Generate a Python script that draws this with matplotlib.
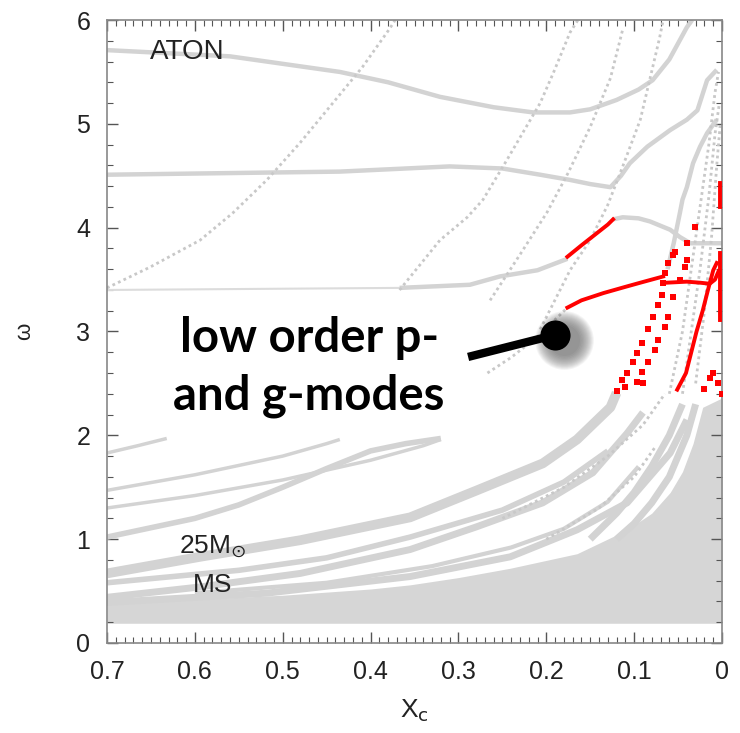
import matplotlib
matplotlib.use("Agg")
import matplotlib.pyplot as plt
from matplotlib.ticker import MultipleLocator

plt.rcParams['font.family'] = ['Liberation Sans', 'DejaVu Sans']

# mode tracks: omega vs X_c
# thick gray tracks (upper frequencies)
aton_x = [0.700, 0.560, 0.435, 0.380, 0.321, 0.260, 0.215, 0.173, 0.150, 0.120, 0.095, 0.079, 0.060, 0.040, 0.034]
aton_y = [5.71, 5.65, 5.50, 5.40, 5.26, 5.16, 5.11, 5.11, 5.14, 5.23, 5.33, 5.42, 5.62, 5.93, 6.00]

mid_x = [0.700, 0.435, 0.310, 0.250, 0.207, 0.173, 0.150, 0.127, 0.115, 0.105, 0.085, 0.059, 0.040, 0.028, 0.017, 0.006]
mid_y = [4.51, 4.54, 4.59, 4.57, 4.51, 4.46, 4.42, 4.39, 4.50, 4.62, 4.78, 4.94, 5.04, 5.13, 5.42, 5.52]

low_thin_x = [0.700, 0.367]
low_thin_y = [3.40, 3.42]
low_x = [0.367, 0.287, 0.253, 0.210, 0.176]
low_y = [3.42, 3.45, 3.53, 3.59, 3.70]
low_end_x = [0.124, 0.113, 0.095, 0.082, 0.059, 0.048, 0.036, 0.000]
low_end_y = [4.08, 4.10, 4.09, 4.06, 3.98, 3.91, 3.85, 3.85]

bend_x = [0.062, 0.055, 0.048, 0.045, 0.040, 0.033, 0.025, 0.017, 0.006]
bend_y = [3.60, 3.85, 4.14, 4.27, 4.39, 4.62, 4.78, 4.91, 5.04]

# dotted (p-mode like) tracks
p1_x = [0.700, 0.651, 0.594, 0.557, 0.518, 0.480, 0.443, 0.409, 0.378, 0.372]
p1_y = [3.42, 3.62, 3.88, 4.14, 4.46, 4.82, 5.20, 5.55, 5.92, 6.00]
p2_x = [0.367, 0.321, 0.290, 0.272, 0.245, 0.207, 0.192, 0.173, 0.164]
p2_y = [3.40, 3.88, 4.10, 4.27, 4.65, 5.20, 5.49, 5.88, 6.00]
p3_x = [0.264, 0.230, 0.199, 0.175, 0.150, 0.127, 0.113]
p3_y = [3.30, 3.74, 4.15, 4.53, 4.97, 5.44, 5.91]
p4_x = [0.207, 0.173, 0.150, 0.130, 0.113, 0.093, 0.071, 0.067]
p4_y = [3.02, 3.59, 3.88, 4.22, 4.59, 5.04, 5.83, 6.00]
p5_x = [0.267, 0.240, 0.210, 0.176]
p5_y = [2.60, 2.75, 2.95, 3.23]
s1_x = [0.060, 0.045, 0.035, 0.025, 0.015, 0.008, 0.004]
s1_y = [2.40, 3.00, 3.60, 4.20, 4.80, 5.30, 5.50]
s2_x = [0.045, 0.035, 0.025, 0.015, 0.008, 0.003]
s2_y = [2.40, 3.00, 3.60, 4.30, 4.90, 5.20]
s3_x = [0.030, 0.020, 0.012, 0.006, 0.002]
s3_y = [2.50, 3.20, 3.90, 4.60, 5.00]
d1_x = [0.250, 0.180, 0.130, 0.090, 0.065]
d1_y = [1.20, 1.50, 1.80, 2.10, 2.40]
d2_x = [0.200, 0.140, 0.100, 0.075]
d2_y = [1.00, 1.30, 1.60, 1.90]

# lower frequency bands
band_a_x = [0.700, 0.594, 0.480, 0.355, 0.279, 0.204, 0.165, 0.127, 0.120]
band_a_y = [0.67, 0.83, 0.99, 1.21, 1.47, 1.73, 1.96, 2.27, 2.41]
band_ab_x = [0.700, 0.550, 0.450, 0.355, 0.250, 0.180, 0.130]
band_ab_y = [0.58, 0.70, 0.82, 1.02, 1.28, 1.55, 1.85]
band_b_x = [0.700, 0.594, 0.480, 0.355, 0.279, 0.204, 0.147, 0.108, 0.090]
band_b_y = [0.44, 0.54, 0.67, 0.90, 1.12, 1.35, 1.64, 2.02, 2.22]
band_bc_x = [0.600, 0.450, 0.330, 0.240, 0.180, 0.130, 0.095]
band_bc_y = [0.48, 0.58, 0.74, 0.92, 1.10, 1.36, 1.70]
band_c_x = [0.700, 0.518, 0.355, 0.241, 0.165, 0.108, 0.059, 0.040]
band_c_y = [0.39, 0.48, 0.64, 0.83, 1.09, 1.35, 1.83, 2.15]
e1_x = [0.150, 0.120, 0.100, 0.080, 0.060, 0.045]
e1_y = [1.00, 1.25, 1.45, 1.70, 2.00, 2.30]
e2_x = [0.120, 0.100, 0.080, 0.060, 0.040, 0.030]
e2_y = [1.00, 1.15, 1.35, 1.60, 2.00, 2.30]
g1_x = [0.700, 0.665, 0.632]
g1_y = [1.83, 1.90, 1.97]
g2_x = [0.700, 0.600, 0.500, 0.450, 0.435]
g2_y = [1.47, 1.62, 1.80, 1.92, 1.96]
g3_x = [0.700, 0.600, 0.500, 0.400, 0.340, 0.320]
g3_y = [1.30, 1.42, 1.57, 1.76, 1.90, 1.96]
g4_x = [0.700, 0.600, 0.550, 0.500, 0.450, 0.400, 0.360, 0.320]
g4_y = [1.02, 1.20, 1.33, 1.50, 1.68, 1.85, 1.92, 1.97]

# dense g-mode region: upper envelope
dense_x = [0.700, 0.600, 0.500, 0.400, 0.355, 0.300, 0.241, 0.165, 0.108, 0.080, 0.059, 0.045, 0.033, 0.022, 0.000]
dense_top = [0.38, 0.42, 0.46, 0.52, 0.56, 0.63, 0.72, 0.86, 1.09, 1.25, 1.45, 1.65, 1.92, 2.27, 2.36]
dense_bottom = 0.19

# unstable modes (red)
r1_x = [0.176, 0.160, 0.145, 0.130, 0.124]
r1_y = [3.72, 3.83, 3.93, 4.03, 4.08]
r2_x = [0.176, 0.160, 0.135, 0.110, 0.093, 0.067]
r2_y = [3.23, 3.30, 3.37, 3.43, 3.47, 3.53]
r2b_x = [0.063, 0.040, 0.025, 0.014, 0.008, 0.004]
r2b_y = [3.47, 3.48, 3.47, 3.46, 3.50, 3.58]
r5_x = [0.006, 0.010, 0.016, 0.022, 0.029, 0.035, 0.041, 0.051]
r5_y = [3.66, 3.59, 3.40, 3.20, 3.00, 2.80, 2.60, 2.44]
edge1_x = [0.002, 0.002]
edge1_y = [3.76, 3.11]
edge2_x = [0.002, 0.002]
edge2_y = [4.43, 4.20]
r3_x = [0.056, 0.062, 0.065, 0.067, 0.068, 0.073, 0.079, 0.084, 0.091, 0.097, 0.101, 0.108, 0.114, 0.119]
r3_y = [3.74, 3.66, 3.56, 3.47, 3.35, 3.26, 3.14, 3.02, 2.89, 2.79, 2.71, 2.60, 2.53, 2.43]
r4_x = [0.040, 0.042, 0.048, 0.056, 0.062, 0.065, 0.073, 0.076, 0.084, 0.091, 0.097]
r4_y = [3.69, 3.62, 3.50, 3.33, 3.14, 3.04, 2.92, 2.82, 2.71, 2.61, 2.51]
rx_x = [0.031, 0.040, 0.053, 0.010, 0.020, 0.005, 0.014, 0.000, 0.110, 0.090]
rx_y = [4.01, 3.85, 3.77, 2.60, 2.45, 2.50, 2.55, 2.40, 2.47, 2.50]

gray = '#d3d3d3'
red = '#ff0000'

fig = plt.figure(figsize=(7.4, 7.33), dpi=100)
ax = fig.add_axes([0.1446, 0.1228, 0.8311, 0.8499])

ax.fill_between(dense_x, dense_bottom, dense_top, color='#d6d6d6', lw=0, zorder=1)

for bx, by, w in [(band_a_x, band_a_y, 7), (band_ab_x, band_ab_y, 4), (band_b_x, band_b_y, 5),
                  (band_bc_x, band_bc_y, 3), (band_c_x, band_c_y, 5), (e1_x, e1_y, 5),
                  (e2_x, e2_y, 5), (g1_x, g1_y, 2.5), (g2_x, g2_y, 2.5),
                  (g3_x, g3_y, 2.5), (g4_x, g4_y, 4)]:
    ax.plot(bx, by, color=gray, lw=w, solid_capstyle='butt', solid_joinstyle='round', zorder=2)

for tx, ty in [(aton_x, aton_y), (mid_x, mid_y), (low_x, low_y), (low_end_x, low_end_y), (bend_x, bend_y)]:
    ax.plot(tx, ty, color=gray, lw=3.2, solid_capstyle='butt', solid_joinstyle='round', zorder=2)
ax.plot(low_thin_x, low_thin_y, color='#dcdcdc', lw=1.5, zorder=2)

for tx, ty in [(p1_x, p1_y), (p2_x, p2_y), (p3_x, p3_y), (p4_x, p4_y), (p5_x, p5_y),
               (s1_x, s1_y), (s2_x, s2_y), (s3_x, s3_y), (d1_x, d1_y), (d2_x, d2_y)]:
    ax.plot(tx, ty, color='#c8c8c8', lw=2, linestyle=(0, (1, 1.2)), zorder=2)

for tx, ty in [(r1_x, r1_y), (r2_x, r2_y), (r2b_x, r2b_y), (r5_x, r5_y), (edge1_x, edge1_y), (edge2_x, edge2_y)]:
    ax.plot(tx, ty, color=red, lw=2.8, zorder=3)
ax.scatter(r3_x, r3_y, s=16, color=red, marker='s', lw=0, zorder=3)
ax.scatter(r4_x, r4_y, s=16, color=red, marker='s', lw=0, zorder=3)
ax.scatter(rx_x, rx_y, s=16, color=red, marker='s', lw=0, zorder=3)

ax.set_xlim(0.7, 0.0)
ax.set_ylim(0, 6)
ax.xaxis.set_minor_locator(MultipleLocator(0.01))
ax.yaxis.set_major_locator(MultipleLocator(1))
ax.yaxis.set_minor_locator(MultipleLocator(0.2))
ax.set_xticks([0.7, 0.6, 0.5, 0.4, 0.3, 0.2, 0.1, 0.0])
ax.set_xticklabels(['0.7', '0.6', '0.5', '0.4', '0.3', '0.2', '0.1', '0'])
ax.tick_params(which='both', direction='in', top=True, right=True, color='#555555',
               labelcolor='#222222', labelsize=18, pad=12)
ax.tick_params(which='major', length=8, width=1)
ax.tick_params(which='minor', length=4, width=0.8)
for sp in ax.spines.values():
    sp.set_color('#888888')
    sp.set_linewidth(1.2)

ax.set_xlabel(r'X$_\mathrm{c}$', fontsize=19, color='#222222', labelpad=10)
ax.set_ylabel('ω', fontsize=16, color='#222222', labelpad=30)

ax.text(0.651, 5.62, 'ATON', fontsize=20, color='#222222', va='baseline')
ax.text(0.580, 0.867, r'25M$_{\odot}$', fontsize=19, color='#222222', ha='center', va='baseline')
ax.text(0.580, 0.49, 'MS', fontsize=19, color='#222222', ha='center', va='baseline')

# annotation with pointer
ax.text(0.470, 2.80, 'low order p-', family=['Lato', 'DejaVu Sans'], fontweight='bold',
        fontsize=34, ha='center', va='baseline', zorder=5)
ax.text(0.470, 2.245, 'and g-modes', family=['Lato', 'DejaVu Sans'], fontweight='bold',
        fontsize=34, ha='center', va='baseline', zorder=5)
for s in range(1800, 400, -100):
    ax.scatter([0.180], [2.92], s=s, color='black', alpha=0.035, lw=0, zorder=4)
ax.plot([0.289, 0.190], [2.755, 2.967], color='black', lw=6, solid_capstyle='butt', zorder=5)
ax.scatter([0.190], [2.967], s=470, color='black', lw=0, zorder=6)

fig.savefig('out.png', dpi=100)
